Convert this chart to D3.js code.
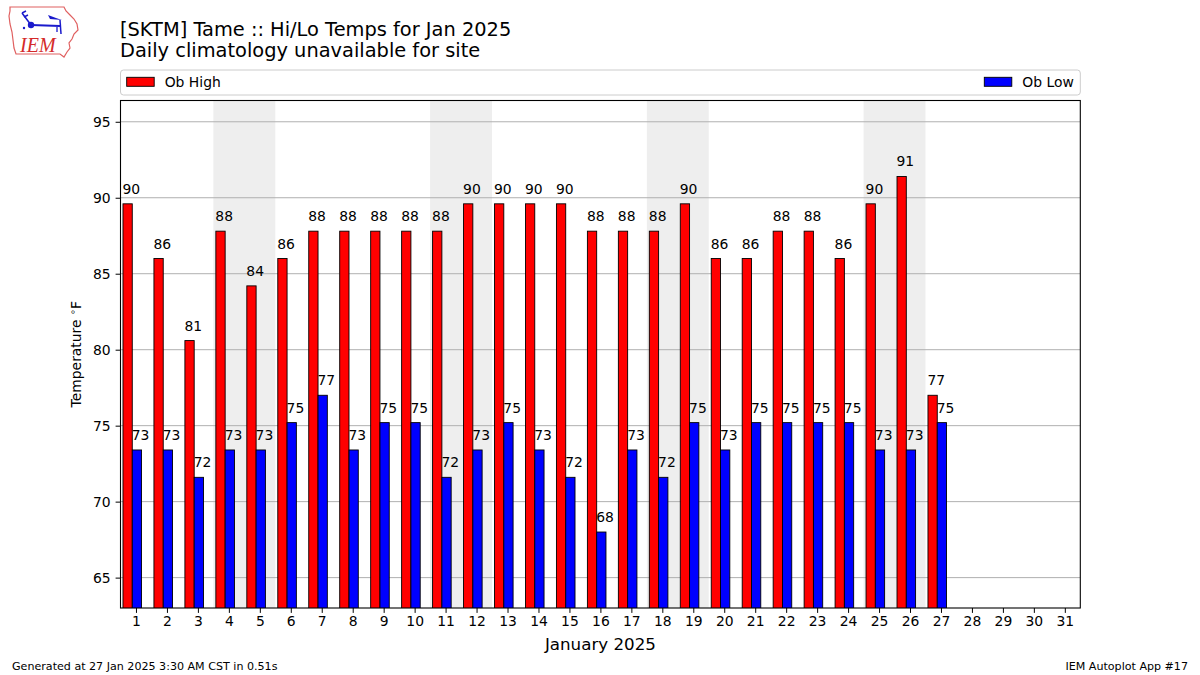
<!DOCTYPE html>
<html>
<head>
<meta charset="utf-8">
<script src="https://cdn.jsdelivr.net/npm/d3@7"></script>
<style>
  html, body { margin: 0; padding: 0; background: #fff; }
  svg { display: block; font-family: "DejaVu Sans", sans-serif; }
</style>
</head>
<body>
<svg id="chart" width="1200" height="675"></svg>
<script>
// ---- data ----
const days = d3.range(1, 28);
const obHigh = [89.6, 86, 80.6, 87.8, 84.2, 86, 87.8, 87.8, 87.8, 87.8, 87.8, 89.6, 89.6, 89.6,
                89.6, 87.8, 87.8, 87.8, 89.6, 86, 86, 87.8, 87.8, 86, 89.6, 91.4, 77];
const obLow = [73.4, 73.4, 71.6, 73.4, 73.4, 75.2, 77, 73.4, 75.2, 75.2, 71.6, 73.4, 75.2, 73.4,
               71.6, 68, 73.4, 71.6, 75.2, 73.4, 75.2, 75.2, 75.2, 75.2, 73.4, 73.4, 75.2];
const weekendStarts = [4, 11, 18, 25];   // Saturdays (Sat+Sun shaded)
const xTicks = d3.range(1, 32);
const yTicks = [65, 70, 75, 80, 85, 90, 95];
const titleLines = ["[SKTM] Tame :: Hi/Lo Temps for Jan 2025", "Daily climatology unavailable for site"];
const seriesNames = ["Ob High", "Ob Low"];
const colors = ["#ff0000", "#0000ff"];

// ---- layout ----
const svg = d3.select("#chart");
const L = 120.5, R = 1080.3, T = 100.5, B = 608;
const x = d3.scaleLinear().domain([0.5, 31.5]).range([L, R]);
const y = d3.scaleLinear().domain([63, 96.4]).range([B, T]);
const barW = 0.3;

// clip
svg.append("defs").append("clipPath").attr("id", "clip")
  .append("rect").attr("x", L).attr("y", T).attr("width", R - L).attr("height", B - T);

const plot = svg.append("g").attr("clip-path", "url(#clip)");

// weekend shading
plot.selectAll("rect.wk").data(weekendStarts).enter().append("rect")
  .attr("x", d => x(d - 0.5)).attr("width", d => x(d + 1.5) - x(d - 0.5))
  .attr("y", T).attr("height", B - T).attr("fill", "#eeeeee");

// grid
plot.selectAll("line.grid").data(yTicks).enter().append("line")
  .attr("x1", L).attr("x2", R).attr("y1", d => y(d)).attr("y2", d => y(d))
  .attr("stroke", "#b0b0b0").attr("stroke-width", 1);

// bars
const series = [obHigh, obLow];
const offsets = [-0.42, -0.12];
series.forEach((vals, si) => {
  plot.selectAll("rect.s" + si).data(days).enter().append("rect")
    .attr("x", d => x(d + offsets[si]))
    .attr("width", d => x(d + offsets[si] + barW) - x(d + offsets[si]))
    .attr("y", (d, i) => y(vals[i]))
    .attr("height", (d, i) => B + 5 - y(vals[i]))
    .attr("fill", colors[si]).attr("stroke", "#000").attr("stroke-width", 0.9);
  svg.selectAll("text.v" + si).data(days).enter().append("text")
    .attr("x", d => x(d + offsets[si]) - 0.5)
    .attr("y", (d, i) => y(vals[i]) - 10)
    .attr("font-size", 13.9).attr("fill", "#000")
    .text((d, i) => d3.format(".0f")(vals[i]));
});

// axes frame
svg.append("rect").attr("x", L).attr("y", T).attr("width", R - L).attr("height", B - T)
  .attr("fill", "none").attr("stroke", "#000").attr("stroke-width", 1.1);

const xAxis = svg.append("g").attr("transform", `translate(0,${B})`)
  .call(d3.axisBottom(x).tickValues(xTicks).tickSize(4.9).tickPadding(3.5).tickFormat(d3.format("d")));
const yAxis = svg.append("g").attr("transform", `translate(${L},0)`)
  .call(d3.axisLeft(y).tickValues(yTicks).tickSize(4.9).tickPadding(4.9).tickFormat(d3.format("d")));
[xAxis, yAxis].forEach(a => {
  a.select(".domain").remove();
  a.selectAll("text").attr("font-size", 13.9).attr("font-family", "DejaVu Sans").attr("fill", "#000");
  a.selectAll("line").attr("stroke", "#000").attr("stroke-width", 1);
});

// axis labels
svg.append("text").attr("x", (L + R) / 2).attr("y", 650).attr("text-anchor", "middle")
  .attr("font-size", 16.7).text("January 2025");
const yl = svg.append("text").attr("transform", `translate(81,${(T + B) / 2}) rotate(-90)`)
  .attr("text-anchor", "middle").attr("font-size", 13.9);
yl.append("tspan").text("Temperature ");
yl.append("tspan").attr("font-size", 9.5).attr("dy", -5).text("∘");
yl.append("tspan").attr("dy", 5).text("F");

// title
titleLines.forEach((t, i) => {
  svg.append("text").attr("x", 120).attr("y", 35.5 + i * 21).attr("font-size", 19.4).attr("fill", "#000").text(t);
});

// legend
svg.append("rect").attr("x", L).attr("y", 70).attr("width", R - L).attr("height", 25)
  .attr("rx", 3).attr("fill", "#fff").attr("stroke", "#cccccc").attr("stroke-width", 1);
const legX = [126.7, 984.3];
seriesNames.forEach((n, i) => {
  svg.append("rect").attr("x", legX[i]).attr("y", 77.3).attr("width", 27.5).attr("height", 9)
    .attr("fill", colors[i]).attr("stroke", "#000").attr("stroke-width", 0.9);
  svg.append("text").attr("x", legX[i] + 38).attr("y", 86.5).attr("font-size", 13.9).text(n);
});

// footer
svg.append("text").attr("x", 12).attr("y", 670).attr("font-size", 11.1).text("Generated at 27 Jan 2025 3:30 AM CST in 0.51s");
svg.append("text").attr("x", 1188).attr("y", 670).attr("text-anchor", "end").attr("font-size", 11.1).text("IEM Autoplot App #17");

// logo (approximate)
const logo = svg.append("g");
logo.append("path")
  .attr("d", "M10,7 L64,7 L66,11 L70,15 L74,19 L77,24 L78,30 L74,34 L72,39 L69,43 L70,48 L67,52 L64,57 L60,54 L16,54 L14,48 L13,40 L12,32 L10,24 L9,16 L10,11 Z")
  .attr("fill", "#fff").attr("stroke", "#e06060").attr("stroke-width", 1.2);
const blue = "#1a1acc";
logo.append("line").attr("x1", 31).attr("y1", 25).attr("x2", 60).attr("y2", 26).attr("stroke", blue).attr("stroke-width", 1.8);
logo.append("line").attr("x1", 31).attr("y1", 25).attr("x2", 22).attr("y2", 13).attr("stroke", blue).attr("stroke-width", 1.5);
logo.append("line").attr("x1", 22).attr("y1", 13).attr("x2", 26).attr("y2", 11).attr("stroke", blue).attr("stroke-width", 1.5);
logo.append("line").attr("x1", 24).attr("y1", 17).attr("x2", 28).attr("y2", 15).attr("stroke", blue).attr("stroke-width", 1.5);
logo.append("circle").attr("cx", 31).attr("cy", 25).attr("r", 3.2).attr("fill", blue);
logo.append("circle").attr("cx", 24).attr("cy", 28).attr("r", 1.2).attr("fill", blue);
logo.append("path").attr("d", "M48,15 L56,18 L62,20 L50,19 Z").attr("fill", blue);
logo.append("line").attr("x1", 60).attr("y1", 20).attr("x2", 61).attr("y2", 34).attr("stroke", blue).attr("stroke-width", 1.5);
logo.append("line").attr("x1", 57).attr("y1", 27).attr("x2", 57).attr("y2", 32).attr("stroke", blue).attr("stroke-width", 1.3);
logo.append("text").attr("x", 20).attr("y", 52).attr("font-family", "Liberation Serif, serif")
  .attr("font-style", "italic").attr("font-size", 20).attr("fill", "#d42a2a").text("IEM");
</script>
</body>
</html>
